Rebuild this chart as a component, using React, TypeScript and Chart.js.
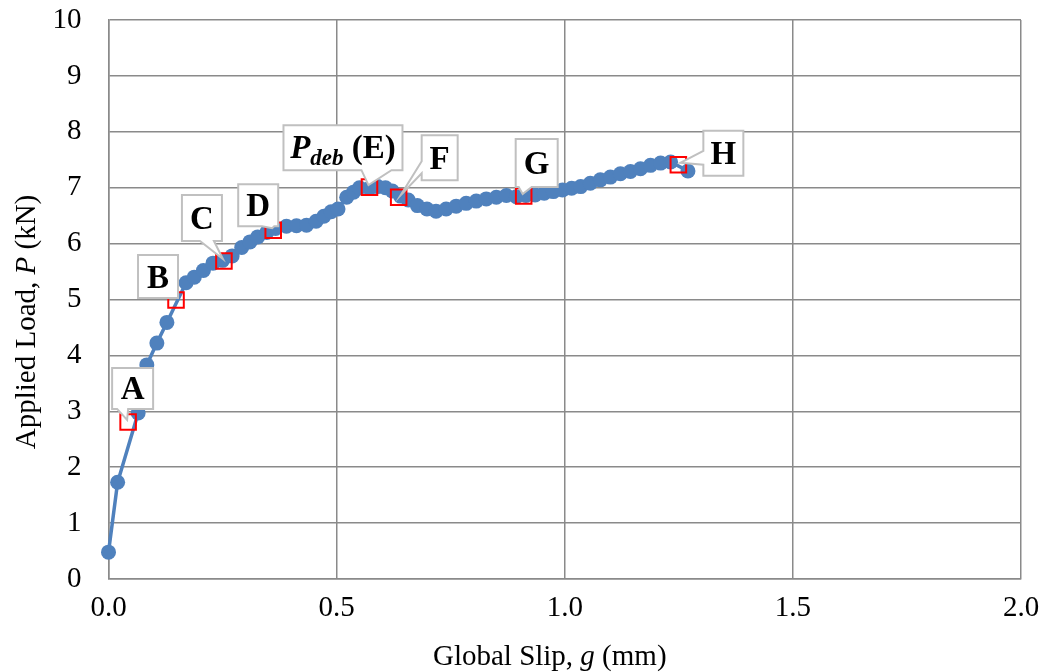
import React, { useEffect, useRef } from "react";
import { Chart, registerables } from "chart.js";

Chart.register(...registerables);

// Main series: global slip (mm) vs applied load (kN)
const slip = [
  0.0, 0.02, 0.065, 0.084, 0.106, 0.128, 0.17, 0.188, 0.208, 0.229, 0.25, 0.271,
  0.292, 0.31, 0.327, 0.347, 0.366, 0.39, 0.412, 0.434, 0.455, 0.472, 0.488,
  0.503, 0.522, 0.537, 0.55, 0.572, 0.59, 0.607, 0.622, 0.64, 0.657, 0.677,
  0.698, 0.718, 0.74, 0.762, 0.784, 0.806, 0.828, 0.85, 0.872, 0.894, 0.915,
  0.935, 0.955, 0.975, 0.995, 1.015, 1.035, 1.056, 1.078, 1.1, 1.122, 1.144,
  1.166, 1.188, 1.21, 1.232, 1.27,
];
const load = [
  0.48, 1.73, 2.97, 3.83, 4.22, 4.59, 5.3, 5.4, 5.52, 5.65, 5.7, 5.78, 5.93,
  6.03, 6.12, 6.2, 6.27, 6.31, 6.32, 6.33, 6.4, 6.49, 6.57, 6.62, 6.83, 6.92,
  7.0, 6.99, 7.02, 7.0, 6.94, 6.85, 6.78, 6.68, 6.62, 6.58, 6.62, 6.67, 6.72,
  6.76, 6.8, 6.83, 6.86, 6.84, 6.86, 6.87, 6.9, 6.93, 6.96, 6.99, 7.02, 7.08,
  7.14, 7.19, 7.25, 7.29, 7.34, 7.4, 7.44, 7.46, 7.3,
];

// Marked stages
const stageNames = ["A", "B", "C", "D", "E", "F", "G", "H"];
const stageSlip = [0.043, 0.148, 0.253, 0.361, 0.572, 0.636, 0.91, 1.249];
const stageLoad = [2.81, 4.99, 5.69, 6.24, 7.01, 6.83, 6.85, 7.41];

// Axis ticks
const xTickValues = [0, 0.5, 1.0, 1.5, 2.0];
const yTickValues = [0, 1, 2, 3, 4, 5, 6, 7, 8, 9, 10];

// Callout layout (pixel offsets of box relative to marker, box size, tail)
type Callout = {
  dx: number; dy: number; w: number; h: number;
  side: "bottom" | "left"; b1: number; b2: number;
};
const calloutStyle: Callout[] = [
  { dx: -16, dy: -54, w: 41, h: 41, side: "bottom", b1: 5, b2: 16 },
  { dx: -38, dy: -45, w: 40, h: 43, side: "bottom", b1: 28, b2: 38 },
  { dx: -42, dy: -66, w: 40, h: 46, side: "bottom", b1: 18, b2: 32 },
  { dx: -35, dy: -46, w: 40, h: 42, side: "bottom", b1: 24, b2: 36 },
  { dx: -86, dy: -62, w: 119, h: 45, side: "bottom", b1: 78, b2: 108 },
  { dx: 23, dy: -62, w: 36, h: 45, side: "left", b1: 26, b2: 38 },
  { dx: -8, dy: -57, w: 42, h: 48, side: "bottom", b1: 3, b2: 16 },
  { dx: 25, dy: -34, w: 40, h: 45, side: "left", b1: 20, b2: 34 },
];

const SERIF = '"Liberation Serif", "Times New Roman", serif';
const BLUE = "#4f81bd";
const GRID = "#8a8a8a";

const drawLabelText = (ctx: CanvasRenderingContext2D, name: string, cx: number, cy: number) => {
  ctx.fillStyle = "#000";
  ctx.textBaseline = "alphabetic";
  if (name === "E") {
    const parts: [string, string, number][] = [
      ["P", `italic bold 33px ${SERIF}`, 0],
      ["deb", `italic bold 23px ${SERIF}`, 7],
      [" (E)", `bold 33px ${SERIF}`, 0],
    ];
    let total = 0;
    parts.forEach(([t, f]) => { ctx.font = f; total += ctx.measureText(t).width; });
    let x = cx - total / 2;
    ctx.textAlign = "left";
    parts.forEach(([t, f, off]) => {
      ctx.font = f;
      ctx.fillText(t, x, cy + 10 + off);
      x += ctx.measureText(t).width;
    });
  } else {
    ctx.font = `bold 33px ${SERIF}`;
    ctx.textAlign = "center";
    ctx.fillText(name, cx, cy + 11);
  }
};

const calloutPlugin = {
  id: "callouts",
  afterDatasetsDraw(chart: any) {
    const ctx: CanvasRenderingContext2D = chart.ctx;
    const xs = chart.scales.x;
    const ys = chart.scales.y;
    ctx.save();
    stageNames.forEach((name, i) => {
      const px = xs.getPixelForValue(stageSlip[i]);
      const py = ys.getPixelForValue(stageLoad[i]);
      const c = calloutStyle[i];
      const x = px + c.dx;
      const y = py + c.dy;
      const tipX = px + (c.side === "left" ? 2 : -1);
      const tipY = py - 2;
      ctx.beginPath();
      if (c.side === "bottom") {
        ctx.moveTo(x, y);
        ctx.lineTo(x + c.w, y);
        ctx.lineTo(x + c.w, y + c.h);
        ctx.lineTo(x + c.b2, y + c.h);
        ctx.lineTo(tipX, tipY);
        ctx.lineTo(x + c.b1, y + c.h);
        ctx.lineTo(x, y + c.h);
        ctx.closePath();
      } else {
        ctx.moveTo(x, y);
        ctx.lineTo(x + c.w, y);
        ctx.lineTo(x + c.w, y + c.h);
        ctx.lineTo(x, y + c.h);
        ctx.lineTo(x, y + c.b2);
        ctx.lineTo(tipX, tipY);
        ctx.lineTo(x, y + c.b1);
        ctx.closePath();
      }
      ctx.fillStyle = "#ffffff";
      ctx.fill();
      ctx.strokeStyle = "#c0c0c0";
      ctx.lineWidth = 2;
      ctx.lineJoin = "miter";
      ctx.stroke();
      drawLabelText(ctx, name, x + c.w / 2, y + c.h / 2);
    });
    ctx.restore();
  },
  afterDraw(chart: any) {
    const ctx: CanvasRenderingContext2D = chart.ctx;
    const area = chart.chartArea;
    ctx.save();
    ctx.fillStyle = "#000";
    ctx.textBaseline = "alphabetic";
    // X title
    const xParts: [string, string][] = [
      ["Global Slip, ", `29px ${SERIF}`],
      ["g", `italic 29px ${SERIF}`],
      [" (mm)", `29px ${SERIF}`],
    ];
    let tw = 0;
    xParts.forEach(([t, f]) => { ctx.font = f; tw += ctx.measureText(t).width; });
    let x = (area.left + area.right) / 2 - 15 - tw / 2;
    ctx.textAlign = "left";
    xParts.forEach(([t, f]) => {
      ctx.font = f;
      ctx.fillText(t, x, 665);
      x += ctx.measureText(t).width;
    });
    // Y title
    const yParts: [string, string][] = [
      ["Applied Load, ", `29px ${SERIF}`],
      ["P", `italic 29px ${SERIF}`],
      [" (kN)", `29px ${SERIF}`],
    ];
    tw = 0;
    yParts.forEach(([t, f]) => { ctx.font = f; tw += ctx.measureText(t).width; });
    ctx.translate(35, 322);
    ctx.rotate(-Math.PI / 2);
    let yx = -tw / 2;
    yParts.forEach(([t, f]) => {
      ctx.font = f;
      ctx.fillText(t, yx, 0);
      yx += ctx.measureText(t).width;
    });
    ctx.restore();
  },
};

export default function App() {
  const ref = useRef<HTMLCanvasElement | null>(null);
  useEffect(() => {
    document.body.style.margin = "0";
    const canvas = ref.current;
    if (!canvas) return;
    const chart = new Chart(canvas, {
      type: "scatter",
      data: {
        datasets: [
          {
            label: "Stages",
            data: stageSlip.map((s, i) => ({ x: s, y: stageLoad[i] })),
            pointStyle: "rect",
            pointRadius: 11,
            backgroundColor: "rgba(0,0,0,0)",
            borderColor: "#ff0000",
            borderWidth: 2,
            showLine: false,
            order: 0,
          } as any,
          {
            label: "Load-slip",
            data: slip.map((s, i) => ({ x: s, y: load[i] })),
            showLine: true,
            borderColor: BLUE,
            backgroundColor: BLUE,
            borderWidth: 3.5,
            pointRadius: 7.5,
            pointBorderWidth: 0,
            pointBackgroundColor: BLUE,
            clip: false,
            order: 1,
          } as any,
        ],
      },
      options: {
        animation: false,
        responsive: false,
        maintainAspectRatio: false,
        layout: { padding: { top: 20, right: 26, left: 0, bottom: 0 } },
        plugins: {
          legend: { display: false },
          tooltip: { enabled: false },
        },
        scales: {
          x: {
            type: "linear",
            min: 0,
            max: 2,
            afterBuildTicks: (scale: any) => {
              scale.ticks = xTickValues.map((v) => ({ value: v }));
            },
            afterFit: (scale: any) => {
              scale.height = 93;
              scale.paddingLeft = 0;
              scale.paddingRight = 0;
            },
            ticks: {
              font: { family: SERIF, size: 29 },
              color: "#000",
              padding: 12,
              callback: (v: any) => Number(v).toFixed(1),
            },
            grid: { color: GRID, lineWidth: 1.5, drawTicks: false },
            border: { color: GRID, width: 1.5 },
          },
          y: {
            type: "linear",
            min: 0,
            max: 10,
            afterBuildTicks: (scale: any) => {
              scale.ticks = yTickValues.map((v) => ({ value: v }));
            },
            afterFit: (scale: any) => {
              scale.width = 108.5;
              scale.paddingTop = 0;
              scale.paddingBottom = 0;
            },
            ticks: {
              font: { family: SERIF, size: 29 },
              color: "#000",
              padding: 27,
              callback: (v: any) => String(v),
            },
            grid: { color: GRID, lineWidth: 1.5, drawTicks: false },
            border: { color: GRID, width: 1.5 },
          },
        },
      },
      plugins: [calloutPlugin],
    });
    return () => chart.destroy();
  }, []);
  return (
    <div style={{ width: 1047, height: 672, background: "#fff" }}>
      <canvas ref={ref} width={1047} height={672} style={{ display: "block" }} />
    </div>
  );
}
